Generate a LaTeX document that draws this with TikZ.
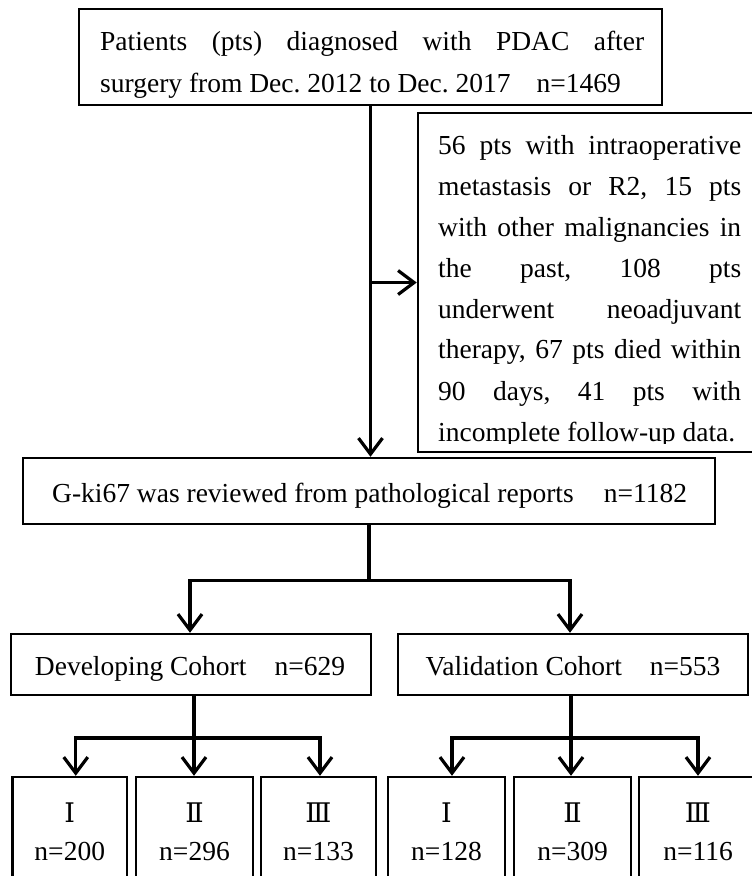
\documentclass[tikz,border=0pt]{standalone}
\usepackage{fontspec}
\setmainfont{Liberation Serif}
\newfontfamily\romfont{DejaVu Serif}
\usetikzlibrary{arrows.meta}
\frenchspacing
\begin{document}
\begin{tikzpicture}[x=1pt,y=-1pt,
  box/.style={draw, line width=2.5pt, rectangle, inner sep=0pt},
  conn/.style={line width=3.2pt},
  arr/.style={conn, -{Straight Barb[length=16pt,width=24pt]}},
  txt/.style={inner sep=0pt, font=\fontsize{27.5}{41}\selectfont\frenchspacing},
  rom/.style={inner sep=0pt, font=\romfont\fontsize{27}{30}\selectfont},
]
\clip (0,0) rectangle (752,876);
\fill[white] (0,0) rectangle (752,876);
% boxes
\node[box, minimum width=583, minimum height=96] (top) at (370.5,57) {};
\node[box, minimum width=352, minimum height=339] (excl) at (594,282.5) {};
\node[box, minimum width=692, minimum height=66] (gki) at (369,491) {};
\node[box, minimum width=360, minimum height=61] (dev) at (191,664.5) {};
\node[box, minimum width=350, minimum height=61] (val) at (573,664.5) {};
\node[box, minimum width=114.5, minimum height=123] (b1) at (69.75,838.5) {};
\node[box, minimum width=117, minimum height=123] (b2) at (194.5,838.5) {};
\node[box, minimum width=115, minimum height=123] (b3) at (318.5,838.5) {};
\node[box, minimum width=117, minimum height=123] (b4) at (446.5,838.5) {};
\node[box, minimum width=117, minimum height=123] (b5) at (572.5,838.5) {};
\node[box, minimum width=118, minimum height=123] (b6) at (698,838.5) {};
% texts
\node[txt, anchor=base west] (t1) at (100,50) {\makebox[544pt][s]{Patients (pts) diagnosed with PDAC after}};
\node[txt, anchor=base west] (t2) at (100,92) {surgery from Dec. 2012 to Dec. 2017\hspace{26pt}n=1469};
\begin{scope}
\clip (418,113) rectangle (752,443.5);
\node[txt, anchor=base west] (e1) at (438,154) {\makebox[303pt][s]{56 pts with intraoperative}};
\node[txt, anchor=base west] (e2) at (438,195) {\makebox[303pt][s]{metastasis or R2, 15 pts}};
\node[txt, anchor=base west] (e3) at (438,236) {\makebox[303pt][s]{with other malignancies in}};
\node[txt, anchor=base west] (e4) at (438,277) {\makebox[303pt][s]{the past, 108 pts}};
\node[txt, anchor=base west] (e5) at (438,318) {\makebox[303pt][s]{underwent neoadjuvant}};
\node[txt, anchor=base west] (e6) at (438,358) {\makebox[303pt][s]{therapy, 67 pts died within}};
\node[txt, anchor=base west] (e7) at (438,400) {\makebox[303pt][s]{90 days, 41 pts with}};
\node[txt, anchor=base west] (e8) at (438,441) {incomplete follow-up data.};
\end{scope}
\node[txt, anchor=base west] (gt) at (52,502) {G-ki67 was reviewed from pathological reports\hspace{30pt}n=1182};
\node[txt, anchor=base] (dt) at (190,675) {Developing Cohort\hspace{28pt}n=629};
\node[txt, anchor=base] (vt) at (573,675) {Validation Cohort\hspace{28pt}n=553};
\foreach \n/\x/\r/\c in {1/69.75/Ⅰ/200, 2/194.5/Ⅱ/296, 3/318.5/Ⅲ/133, 4/446.5/Ⅰ/128, 5/572.5/Ⅱ/309, 6/698/Ⅲ/116}{
  \node[rom, anchor=base] (r\n) at (\x,822) {\r};
  \node[txt, anchor=base] (n\n) at (\x,860) {n=\c};
}
% connectors
\draw[arr] (top.south) -- (top.south |- gki.north);
\draw[arr] (top.south |- excl.west) -- (excl.west);
\path (gki.south) ++(0,55) coordinate (j1);
\draw[conn] (gki.south) -- (j1);
\draw[arr] (j1) -| ([xshift=-1pt]dev.north);
\draw[arr] (j1) -| ([xshift=-3pt]val.north);
\coordinate (j2) at (194,738);
\draw[conn] (j2 |- dev.south) -- (j2);
\draw[arr] (j2) -- (j2 |- b2.north);
\draw[arr] (j2) -| ([xshift=6pt]b1.north);
\draw[arr] (j2) -| ([xshift=1.5pt]b3.north);
\coordinate (j3) at (571,738);
\draw[conn] (j3 |- val.south) -- (j3);
\draw[arr] (j3) -- (j3 |- b5.north);
\draw[arr] (j3) -| ([xshift=5.5pt]b4.north);
\draw[arr] (j3) -| (b6.north);
\end{tikzpicture}
\end{document}
